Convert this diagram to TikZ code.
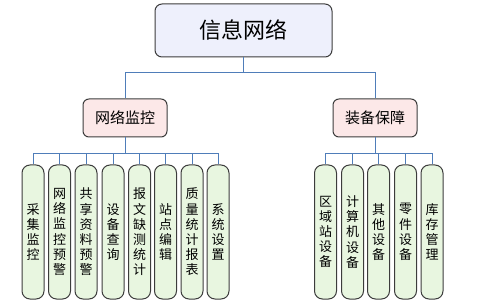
\documentclass[tikz,border=0pt]{standalone}
\usepackage{fontspec}
\setmainfont{Noto Sans CJK SC}
\begin{document}
\begin{tikzpicture}[x=1pt,y=-1pt,
  conn/.style={draw={rgb,255:red,79;green,125;blue,185}, line width=0.9pt},
  topbox/.style={draw={rgb,255:red,60;green,60;blue,60}, line width=1pt, rounded corners=7pt,
    fill={rgb,255:red,238;green,240;blue,252}, minimum width=177pt, minimum height=53pt, inner sep=0pt, font=\fontsize{22}{24}\selectfont},
  midbox/.style={draw={rgb,255:red,60;green,60;blue,60}, line width=1pt, rounded corners=6pt,
    fill={rgb,255:red,252;green,232;blue,232}, minimum width=84pt, minimum height=38pt, inner sep=0pt, font=\fontsize{15}{17}\selectfont},
  leafbox/.style={draw={rgb,255:red,60;green,60;blue,60}, line width=1pt, rounded corners=8pt,
    fill={rgb,255:red,232;green,246;blue,224}, minimum width=22pt, minimum height=134pt, inner sep=0pt, align=center, font=\fontsize{13}{15.2}\selectfont}
]
\useasboundingbox (0,0) rectangle (481,304);
\node[topbox] (top) at (243.5,30.5) {信息网络};
\node[midbox] (m1) at (125,118) {网络监控};
\node[midbox] (m2) at (375,118) {装备保障};
\coordinate (j) at (243.5,72);
\coordinate (b1) at (125,153);
\coordinate (b2) at (375,153);

\node[leafbox] (l1) at (33,232) {采\\集\\监\\控};
\node[leafbox] (l2) at (59.5,232) {网\\络\\监\\控\\预\\警};
\node[leafbox] (l3) at (86,232) {共\\享\\资\\料\\预\\警};
\node[leafbox] (l4) at (113,232) {设\\备\\查\\询};
\node[leafbox] (l5) at (139.5,232) {报\\文\\缺\\测\\统\\计};
\node[leafbox] (l6) at (165.5,232) {站\\点\\编\\辑};
\node[leafbox] (l7) at (192,232) {质\\量\\统\\计\\报\\表};
\node[leafbox] (l8) at (218,232) {系\\统\\设\\置};

\node[leafbox] (r1) at (325.5,232) {区\\域\\站\\设\\备};
\node[leafbox] (r2) at (352.5,232) {计\\算\\机\\设\\备};
\node[leafbox] (r3) at (378.5,232) {其\\他\\设\\备};
\node[leafbox] (r4) at (405.5,232) {零\\件\\设\\备};
\node[leafbox] (r5) at (432,232) {库\\存\\管\\理};

\draw[conn] (top.south) -- (j);
\draw[conn] (j) -| (m1.north);
\draw[conn] (j) -| (m2.north);
\draw[conn] (m1.south) -- (b1);
\draw[conn] (m2.south) -- (b2);
\foreach \n in {l1,l2,l3,l4,l5,l6,l7,l8} {\draw[conn] (b1) -| (\n.north);}
\foreach \n in {r1,r2,r3,r4,r5} {\draw[conn] (b2) -| (\n.north);}
\end{tikzpicture}
\end{document}
